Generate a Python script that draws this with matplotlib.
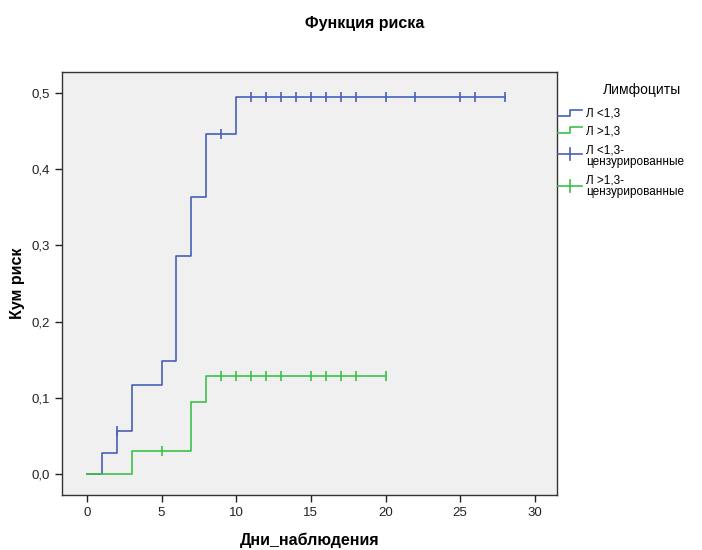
import numpy as np
import matplotlib.pyplot as plt
from matplotlib.lines import Line2D

plt.rcParams['font.family'] = ['Liberation Sans', 'DejaVu Sans']

# data
blue_times = [0, 1, 2, 3, 5, 6, 7, 8, 10, 28]
blue_risk = [0.0, 0.028, 0.056, 0.117, 0.148, 0.286, 0.364, 0.446, 0.495, 0.495]
blue_cens = [2, 9, 11, 12, 13, 14, 15, 16, 17, 18, 20, 22, 25, 26, 28]

green_times = [0, 3, 7, 8, 20]
green_risk = [0.0, 0.030, 0.095, 0.128, 0.128]
green_cens = [5, 9, 10, 11, 12, 13, 15, 16, 17, 18, 20]

x_ticks = [0, 5, 10, 15, 20, 25, 30]
y_ticks = [0.0, 0.1, 0.2, 0.3, 0.4, 0.5]
y_labels = ['0,0', '0,1', '0,2', '0,3', '0,4', '0,5']

legend_labels = ['Л <1,3', 'Л >1,3', 'Л <1,3-\nцензурированные', 'Л >1,3-\nцензурированные']

blue = '#4860B8'
green = '#3DC04C'


def risk_at(times, risk, t):
    idx = np.searchsorted(times, t, side='right') - 1
    return np.asarray(risk)[idx]


fig = plt.figure(figsize=(7.02, 5.50), dpi=100)
ax = fig.add_axes([0.0883, 0.10, 0.705, 0.769])
ax.set_facecolor('#F0F0F0')

ax.step(blue_times, blue_risk, where='post', color=blue, lw=1.2)
ax.step(green_times, green_risk, where='post', color=green, lw=1.2)
ax.plot(blue_cens, risk_at(blue_times, blue_risk, blue_cens), ls='none',
        marker='|', ms=7, mew=1.2, color=blue)
ax.plot(green_cens, risk_at(green_times, green_risk, green_cens), ls='none',
        marker='|', ms=7, mew=1.2, color=green)

ax.set_xlim(-1.67, 31.48)
ax.set_ylim(-0.0276, 0.5276)
ax.set_xticks(x_ticks)
ax.set_xticklabels([str(v) for v in x_ticks])
ax.set_yticks(y_ticks)
ax.set_yticklabels(y_labels)
ax.tick_params(direction='out', length=5, width=1, labelsize=9.5, colors='#222222')
for s in ax.spines.values():
    s.set_color('#333333')
    s.set_linewidth(1)

ax.set_xlabel('Дни_наблюдения', fontsize=11.5, fontweight='bold', labelpad=10)
ax.set_ylabel('Кум риск', fontsize=11.5, fontweight='bold', labelpad=5)
fig.text(0.52, 0.958, 'Функция риска', ha='center', va='center',
         fontsize=11.5, fontweight='bold')

# legend drawn by hand to the right of the plot
W, H = 702, 550


def fx(px):
    return px / W


def fy(py):
    return 1 - py / H


fig.text(fx(642), fy(90), 'Лимфоциты', ha='center', va='center', fontsize=10)
for y0, col in [(116, blue), (133, green)]:
    fig.add_artist(Line2D([fx(558), fx(570), fx(570), fx(582)],
                          [fy(y0), fy(y0), fy(y0 - 6), fy(y0 - 6)],
                          color=col, lw=1.2))
for y0, col in [(154, blue), (186, green)]:
    fig.add_artist(Line2D([fx(558), fx(582)], [fy(y0), fy(y0)], color=col, lw=1.2))
    fig.add_artist(Line2D([fx(570), fx(570)], [fy(y0 - 6), fy(y0 + 6)], color=col, lw=1.2))

fig.text(fx(586), fy(114), legend_labels[0], va='center', fontsize=8.5)
fig.text(fx(586), fy(131), legend_labels[1], va='center', fontsize=8.5)
fig.text(fx(586), fy(156), legend_labels[2], va='center', fontsize=8.5, linespacing=0.95)
fig.text(fx(586), fy(186), legend_labels[3], va='center', fontsize=8.5, linespacing=0.95)

fig.savefig('out.png', dpi=100)
